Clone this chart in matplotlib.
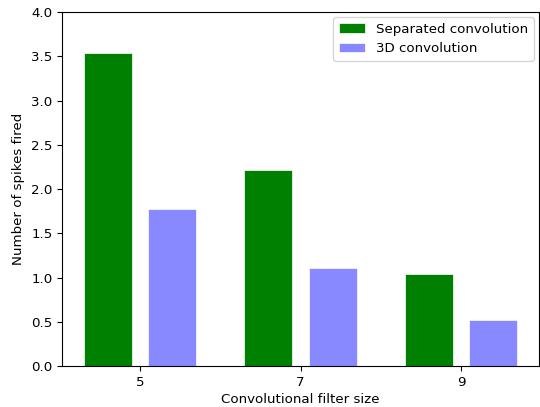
import numpy as np
import matplotlib
matplotlib.use("Agg")
import matplotlib.pyplot as plt

plt.rcParams['font.size'] = 9.6

filter_sizes = ['5', '7', '9']
separated = [3.54, 2.215, 1.035]
conv3d = [1.77, 1.11, 0.523]

x = np.arange(len(filter_sizes))
width = 0.3

fig = plt.figure(figsize=(5.4, 4.07), dpi=100)
ax = fig.add_axes([0.115, 0.1007, 0.883, 0.8698])
ax.bar(x - 0.2, separated, width, color='green', edgecolor='white', linewidth=0.5,
       label='Separated convolution')
ax.bar(x + 0.2, conv3d, width, color='#8888ff', edgecolor='white', linewidth=0.5,
       label='3D convolution')
ax.set_xticks(x)
ax.set_xticklabels(filter_sizes)
ax.set_ylim(0, 4)
ax.set_xlabel('Convolutional filter size', labelpad=3)
ax.set_ylabel('Number of spikes fired')
ax.legend(loc='upper right', borderaxespad=0.4)
fig.savefig('out.png', dpi=100)
